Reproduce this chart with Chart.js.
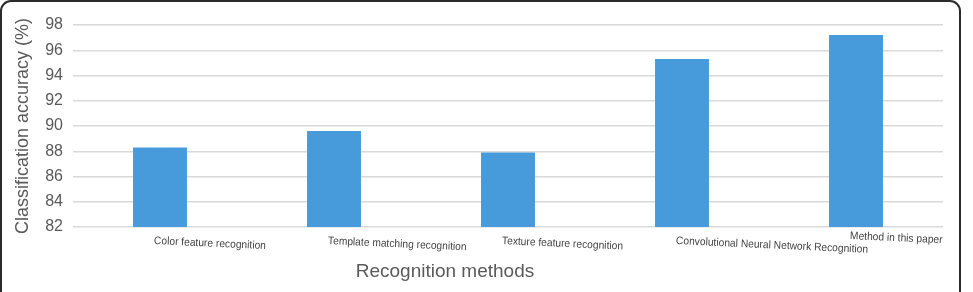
<!DOCTYPE html>
<html>
<head>
<meta charset="utf-8">
<script src="https://cdn.jsdelivr.net/npm/chart.js@4/dist/chart.umd.min.js"></script>
<style>
  html, body { margin: 0; padding: 0; background: #fff; overflow: hidden; }
  #wrap { position: relative; width: 973px; height: 292px; }
  #frame {
    position: absolute; left: 0; top: 0; width: 961px; height: 310px;
    border: 2px solid #2b2b2b; border-radius: 11px; box-sizing: border-box;
  }
  canvas { position: absolute; left: 0; top: 0; }
</style>
</head>
<body>
<div id="wrap">
  <div id="frame"></div>
  <canvas id="chart" width="973" height="292"></canvas>
</div>
<script>
// categories and values
const methods = [
  "Color feature recognition",
  "Template matching recognition",
  "Texture feature recognition",
  "Convolutional Neural Network Recognition",
  "Method in this paper"
];
const accuracy = [88.3, 89.6, 87.9, 95.3, 97.2];
const yTicks = [82, 84, 86, 88, 90, 92, 94, 96, 98];

const TEXT = "#5a5a5a";
const FONT = "'Liberation Sans', Arial, Helvetica, sans-serif";

// slanted category labels + x axis title, drawn from the x scale
const xLabels = {
  id: "xLabels",
  afterDraw(chart) {
    const ctx = chart.ctx;
    const xs = chart.scales.x;
    const base = chart.chartArea.bottom;
    ctx.save();
    ctx.fillStyle = "#444";
    ctx.font = "11px " + FONT;
    ctx.textAlign = "left";
    ctx.textBaseline = "middle";
    methods.forEach((m, i) => {
      const x = xs.getPixelForValue(i) - 6;
      const y = base + (i === methods.length - 1 ? 9 : 14);
      ctx.save();
      ctx.translate(x, y);
      ctx.rotate(2.6 * Math.PI / 180);
      ctx.scale(0.93, 1);
      ctx.fillText(m, 0, 0);
      ctx.restore();
    });
    ctx.fillStyle = TEXT;
    ctx.font = "19px " + FONT;
    ctx.textAlign = "center";
    ctx.fillText("Recognition methods", 445, 272);
    ctx.restore();
  }
};

new Chart(document.getElementById("chart"), {
  type: "bar",
  data: {
    labels: methods,
    datasets: [{
      data: accuracy,
      backgroundColor: "#479bdb",
      borderWidth: 0,
      categoryPercentage: 1,
      barPercentage: 0.31
    }]
  },
  options: {
    responsive: false,
    animation: false,
    devicePixelRatio: 1,
    layout: { padding: { left: 0, right: 30, top: 25, bottom: 65 } },
    plugins: { legend: { display: false }, tooltip: { enabled: false } },
    scales: {
      x: {
        ticks: { display: false },
        grid: { display: false },
        border: { display: false },
        afterFit: (s) => { s.height = 0; }
      },
      y: {
        min: 82,
        max: 98,
        afterBuildTicks: (s) => { s.ticks = yTicks.map(v => ({ value: v })); },
        afterFit: (s) => { s.width = 73; },
        ticks: { color: TEXT, font: { size: 16, family: FONT }, padding: 10 },
        grid: { color: "#d9d9d9", lineWidth: 1.5, drawTicks: false },
        border: { display: false },
        title: {
          display: true,
          text: "Classification accuracy (%)",
          color: TEXT,
          font: { size: 18, family: FONT },
          padding: { top: 12, bottom: 0 }
        }
      }
    }
  },
  plugins: [xLabels]
});
</script>
</body>
</html>
